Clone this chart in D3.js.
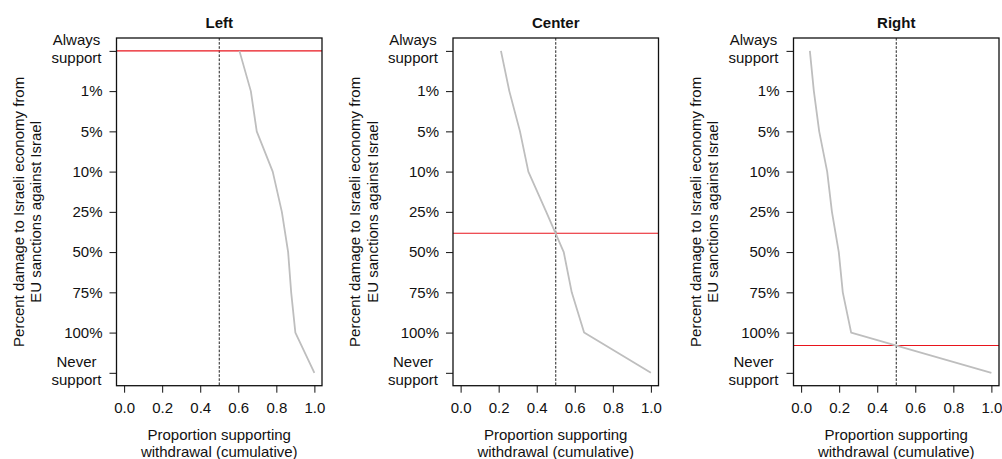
<!DOCTYPE html>
<html>
<head>
<meta charset="utf-8">
<script src="https://cdn.jsdelivr.net/npm/d3@7"></script>
<style>
  html, body { margin: 0; padding: 0; background: #fff; }
  svg { display: block; font-family: "Liberation Sans", Arial, Helvetica, sans-serif; }
</style>
</head>
<body>
<svg id="chart" width="1002" height="459"></svg>
<script>
// ---- data ----
const panelTitles = ["Left", "Center", "Right"];
const levelLabels = [["Always", "support"], ["1%"], ["5%"], ["10%"], ["25%"], ["50%"], ["75%"], ["100%"], ["Never", "support"]];
const xTicks = [0, 0.2, 0.4, 0.6, 0.8, 1.0];
const leftValues   = [0.606, 0.666, 0.697, 0.781, 0.829, 0.862, 0.878, 0.900, 1.0];
const centerValues = [0.212, 0.256, 0.312, 0.356, 0.450, 0.542, 0.584, 0.649, 1.0];
const rightValues  = [0.046, 0.067, 0.095, 0.137, 0.162, 0.198, 0.219, 0.263, 1.0];
const medianLevel  = [0, 4.53, 7.32];
const yTitleLines = ["Percent damage to Israeli economy from", "EU sanctions against Israel"];
const xTitleLines = ["Proportion supporting", "withdrawal (cumulative)"];

const seriesList = [leftValues, centerValues, rightValues];

// ---- layout ----
const svg = d3.select("#chart");
const panelLefts = [116.5, 453, 793.5];
const plotW = 205.5;
const plotTop = 38, plotBottom = 385.7;
const fontSize = 15;

panelTitles.forEach((title, p) => {
  const x0 = panelLefts[p];
  const x = d3.scaleLinear().domain([-0.04, 1.04]).range([x0, x0 + plotW]);
  const n = levelLabels.length - 1;
  const y = d3.scaleLinear().domain([-0.04 * n, n * 1.04]).range([plotTop, plotBottom]);
  const g = svg.append("g");

  // clip
  const clipId = "clip" + p;
  svg.append("clipPath").attr("id", clipId).append("rect")
    .attr("x", x0).attr("y", plotTop).attr("width", plotW).attr("height", plotBottom - plotTop);

  const inner = g.append("g").attr("clip-path", `url(#${clipId})`);

  // vertical dashed line at 0.5
  inner.append("line")
    .attr("x1", x(0.5)).attr("x2", x(0.5))
    .attr("y1", plotTop).attr("y2", plotBottom)
    .attr("stroke", "#222").attr("stroke-width", 1)
    .attr("stroke-dasharray", "2.6,1.5");

  // horizontal red line
  inner.append("line")
    .attr("x1", x0).attr("x2", x0 + plotW)
    .attr("y1", y(medianLevel[p])).attr("y2", y(medianLevel[p]))
    .attr("stroke", "#e8141c").attr("stroke-width", 1.1);

  // grey curve
  const vals = seriesList[p];
  const line = d3.line().x(d => x(d)).y((d, i) => y(i));
  inner.append("path").datum(vals)
    .attr("d", line)
    .attr("fill", "none")
    .attr("stroke", "#bebebe").attr("stroke-width", 1.8)
    .attr("stroke-linejoin", "round");

  // box
  g.append("rect")
    .attr("x", x0).attr("y", plotTop)
    .attr("width", plotW).attr("height", plotBottom - plotTop)
    .attr("fill", "none").attr("stroke", "#111").attr("stroke-width", 1.3);

  // x axis
  const xAxis = d3.axisBottom(x).tickValues(xTicks).tickFormat(d3.format(".1f")).tickSize(7).tickPadding(0);
  const xa = g.append("g").attr("transform", `translate(0,${plotBottom})`).call(xAxis);
  xa.select(".domain").remove();
  xa.selectAll("line").attr("stroke", "#111").attr("stroke-width", 1);
  xa.selectAll("text").attr("font-size", fontSize).attr("fill", "#111")
    .attr("font-family", "Liberation Sans, Arial, sans-serif")
    .attr("dy", null).attr("y", 27);

  // y axis
  const levelIdx = d3.range(levelLabels.length);
  const yAxis = d3.axisLeft(y).tickValues(levelIdx).tickFormat("").tickSize(7);
  const ya = g.append("g").attr("transform", `translate(${x0},0)`).call(yAxis);
  ya.select(".domain").remove();
  ya.selectAll("line").attr("stroke", "#111").attr("stroke-width", 1);

  levelIdx.forEach(i => {
    const lines = levelLabels[i];
    const ty = y(i);
    if (lines.length === 1) {
      g.append("text")
        .attr("x", x0 - 14).attr("y", ty + 5.3)
        .attr("text-anchor", "end")
        .attr("font-size", fontSize).attr("fill", "#111")
        .text(lines[0]);
    } else {
      const cx = x0 - 14 - 26;
      lines.forEach((t, k) => {
        g.append("text")
          .attr("x", cx).attr("y", ty - 5.5 + k * 17.5)
          .attr("text-anchor", "middle")
          .attr("font-size", fontSize).attr("fill", "#111")
          .text(t);
      });
    }
  });

  // title
  g.append("text")
    .attr("x", x0 + plotW / 2).attr("y", 28.3)
    .attr("text-anchor", "middle")
    .attr("font-size", fontSize).attr("font-weight", "bold").attr("fill", "#111")
    .text(title);

  // x title
  xTitleLines.forEach((t, k) => {
    g.append("text")
      .attr("x", x0 + plotW / 2).attr("y", 439.7 + k * 17.3)
      .attr("text-anchor", "middle")
      .attr("font-size", fontSize).attr("fill", "#111")
      .text(t);
  });

  // y title (rotated)
  const cy = (plotTop + plotBottom) / 2;
  yTitleLines.forEach((t, k) => {
    const bx = x0 - 116.5 + 23.5 + k * 17.5;
    g.append("text")
      .attr("transform", `translate(${bx},${cy}) rotate(-90)`)
      .attr("text-anchor", "middle")
      .attr("font-size", fontSize).attr("fill", "#111")
      .text(t);
  });
});
</script>
</body>
</html>
